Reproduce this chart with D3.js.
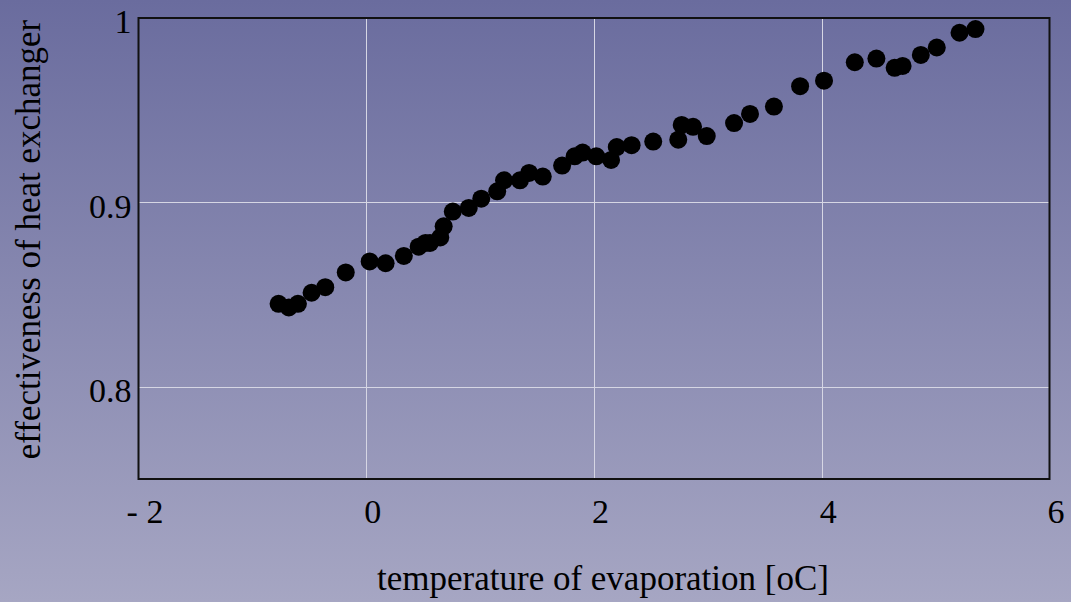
<!DOCTYPE html>
<html>
<head>
<meta charset="utf-8">
<script src="https://cdn.jsdelivr.net/npm/d3@7"></script>
<style>
  html, body { margin: 0; padding: 0; }
  body { width: 1071px; height: 602px; overflow: hidden; }
  svg { display: block; }
</style>
</head>
<body>
<svg id="chart" width="1071" height="602"></svg>
<script>
// Evaporation temperature [oC] vs. heat exchanger effectiveness
const evapTemp = [
  -0.77, -0.68, -0.60, -0.48, -0.36, -0.18, 0.03, 0.17, 0.33, 0.46,
  0.52, 0.56, 0.65, 0.68, 0.76, 0.90, 1.01, 1.15, 1.21, 1.35,
  1.43, 1.55, 1.72, 1.83, 1.90, 2.02, 2.15, 2.20, 2.33, 2.52,
  2.74, 2.77, 2.87, 2.99, 3.23, 3.37, 3.58, 3.81, 4.02, 4.29,
  4.48, 4.64, 4.71, 4.87, 5.01, 5.21, 5.35
];
const effectiveness = [
  0.845, 0.843, 0.845, 0.851, 0.854, 0.862, 0.868, 0.867, 0.871, 0.876,
  0.878, 0.878, 0.881, 0.887, 0.895, 0.897, 0.902, 0.906, 0.912, 0.912,
  0.916, 0.914, 0.920, 0.925, 0.927, 0.925, 0.923, 0.930, 0.931, 0.933,
  0.934, 0.942, 0.941, 0.936, 0.943, 0.948, 0.952, 0.963, 0.966, 0.976,
  0.978, 0.973, 0.974, 0.980, 0.984, 0.992, 0.994
];
const xTicks = [-2, 0, 2, 4, 6];
const xTickLabels = ["- 2", "0", "2", "4", "6"];
const yTicks = [0.8, 0.9, 1];
const yTickLabels = ["0.8", "0.9", "1"];
const xTitle = "temperature of evaporation [oC]";
const yTitle = "effectiveness of heat exchanger";

const W = 1071, H = 602;
const plot = { left: 138.5, right: 1049.5, top: 18, bottom: 479 };

const svg = d3.select("#chart");

// Page background gradient
const defs = svg.append("defs");
const grad = defs.append("linearGradient")
  .attr("id", "bg").attr("x1", 0).attr("y1", 0).attr("x2", 0).attr("y2", 1);
grad.append("stop").attr("offset", "0%").attr("stop-color", "#6a6c9e");
grad.append("stop").attr("offset", "100%").attr("stop-color", "#a6a6c3");
svg.append("rect").attr("width", W).attr("height", H).attr("fill", "url(#bg)");

const x = d3.scaleLinear().domain([-2, 6]).range([plot.left, plot.right]);
const y = d3.scaleLinear().domain([0.75, 1]).range([plot.bottom, plot.top]);

// Grid lines
const grid = svg.append("g").attr("stroke", "#d6d6e4").attr("stroke-width", 1);
grid.selectAll("line.gx").data(xTicks.slice(1, -1)).join("line")
  .attr("x1", d => Math.round(x(d)) + 0.5).attr("x2", d => Math.round(x(d)) + 0.5)
  .attr("y1", plot.top).attr("y2", plot.bottom);
grid.selectAll("line.gy").data(yTicks.filter(d => d < 1)).join("line")
  .attr("y1", d => Math.round(y(d)) + 0.5).attr("y2", d => Math.round(y(d)) + 0.5)
  .attr("x1", plot.left).attr("x2", plot.right);

// Axes (labels only, no tick marks)
const font = "'Liberation Serif', 'Times New Roman', serif";
const xAxis = d3.axisBottom(x).tickValues(xTicks)
  .tickFormat((d, i) => xTickLabels[i]).tickSize(0).tickPadding(0);
const gx = svg.append("g").attr("transform", `translate(6,${plot.bottom + 44})`).call(xAxis);
gx.select(".domain").remove();
gx.selectAll("text").attr("font-family", font).attr("font-size", 34)
  .attr("fill", "#000").attr("dy", 0);

const yAxis = d3.axisLeft(y).tickValues(yTicks)
  .tickFormat((d, i) => yTickLabels[i]).tickSize(0).tickPadding(7);
const gy = svg.append("g").attr("transform", `translate(${plot.left},0)`).call(yAxis);
gy.select(".domain").remove();
gy.selectAll("text").attr("font-family", font).attr("font-size", 34)
  .attr("fill", "#000").attr("dy", "0.44em");

// Plot frame
svg.append("rect")
  .attr("x", plot.left).attr("y", plot.top)
  .attr("width", plot.right - plot.left).attr("height", plot.bottom - plot.top)
  .attr("fill", "none").attr("stroke", "#111").attr("stroke-width", 2);

// Data points
svg.append("g").selectAll("circle").data(evapTemp).join("circle")
  .attr("cx", (d, i) => x(d))
  .attr("cy", (d, i) => y(effectiveness[i]))
  .attr("r", 9)
  .attr("fill", "#000");

// Axis titles
svg.append("text")
  .attr("x", (plot.left + plot.right) / 2 + 9).attr("y", 590)
  .attr("text-anchor", "middle")
  .attr("font-family", font).attr("font-size", 35).attr("fill", "#000")
  .text(xTitle);

svg.append("text")
  .attr("transform", `translate(40,${(plot.top + plot.bottom) / 2 - 9}) rotate(-90)`)
  .attr("text-anchor", "middle")
  .attr("font-family", font).attr("font-size", 35).attr("fill", "#000")
  .text(yTitle);
</script>
</body>
</html>
